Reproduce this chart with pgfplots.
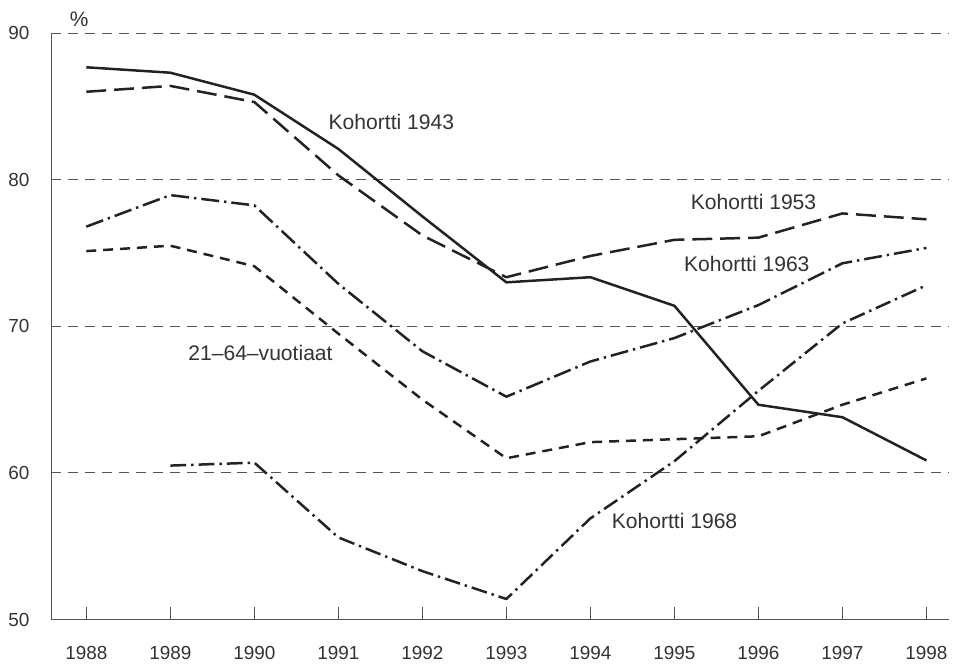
\documentclass[border=0pt]{standalone}
\usepackage{fontspec}
\setmainfont{Liberation Sans}
\usepackage{pgfplots}
\pgfplotsset{compat=1.18}

\definecolor{ink}{HTML}{222222}
\definecolor{txt}{HTML}{333333}
\definecolor{gridc}{HTML}{555555}

\begin{document}
\begin{tikzpicture}
\begin{axis}[
  scale only axis,
  width=451.15pt, height=294.7pt,
  xmin=1987.585, xmax=1998.27,
  ymin=50, ymax=90,
  axis lines=left,
  axis line style={-, gridc, line width=0.8pt},
  xtick={1988,...,1998},
  ytick={50,60,70,80,90},
  tick align=inside,
  major tick length=6.5pt,
  xtick style={gridc, line width=0.6pt},
  ytick style={draw=none},
  ymajorgrids,
  major grid style={gridc, line width=0.5pt, dash pattern=on 5pt off 3.5pt},
  /pgf/number format/1000 sep={},
  /pgf/number format/assume math mode=true,
  ticklabel style={font=\fontsize{9.5}{11}\selectfont, text=txt},
  xticklabel style={yshift=-10pt},
  yticklabel style={xshift=-7.5pt},
  clip=false,
  every axis plot/.append style={ink, no marks, line width=1.25pt, line join=round},
]
% Kohortti 1943
\addplot[ink, solid] coordinates {
  (1988,87.67) (1989,87.3) (1990,85.8) (1991,82.1) (1992,77.5) (1993,73.0)
  (1994,73.35) (1995,71.4) (1996,64.65) (1997,63.8) (1998,60.85)
};
% Kohortti 1953
\addplot[ink, dash pattern=on 10pt off 4pt] coordinates {
  (1988,86.0) (1989,86.4) (1990,85.3) (1991,80.3) (1992,76.2) (1993,73.35)
  (1994,74.8) (1995,75.9) (1996,76.05) (1997,77.7) (1998,77.3)
};
% Kohortti 1963
\addplot[ink, dash pattern=on 9pt off 2.5pt on 1.2pt off 2.5pt] coordinates {
  (1988,76.8) (1989,78.95) (1990,78.25) (1991,72.9) (1992,68.3) (1993,65.2)
  (1994,67.6) (1995,69.2) (1996,71.45) (1997,74.3) (1998,75.35)
};
% 21-64-vuotiaat
\addplot[ink, dash pattern=on 5pt off 3.5pt] coordinates {
  (1988,75.13) (1989,75.5) (1990,74.1) (1991,69.5) (1992,65.0) (1993,61.0)
  (1994,62.1) (1995,62.3) (1996,62.5) (1997,64.65) (1998,66.45)
};
% Kohortti 1968
\addplot[ink, dash pattern=on 8pt off 2.5pt on 1.2pt off 2.5pt] coordinates {
  (1989,60.5) (1990,60.7) (1991,55.6) (1992,53.3) (1993,51.4)
  (1994,56.9) (1995,60.8) (1996,65.6) (1997,70.2) (1998,72.8)
};

\begin{scope}[every node/.style={anchor=west, inner sep=0pt, text=txt, font=\fontsize{10.6}{12}\selectfont}]
\node at (axis cs:1990.88,83.91) {Kohortti 1943};
\node at (axis cs:1995.19,78.48) {Kohortti 1953};
\node at (axis cs:1995.11,74.27) {Kohortti 1963};
\node at (axis cs:1989.21,68.16) {21--64--vuotiaat};
\node at (axis cs:1994.25,56.70) {Kohortti 1968};
\end{scope}
\node[anchor=west, inner sep=0pt, text=txt, font=\fontsize{10.5}{12}\selectfont] at (axis cs:1987.80,90.97) {\%};

\path (rel axis cs:-0.0573,-0.0786) rectangle (rel axis cs:1.0,1.0565);
\end{axis}
\end{tikzpicture}
\end{document}
